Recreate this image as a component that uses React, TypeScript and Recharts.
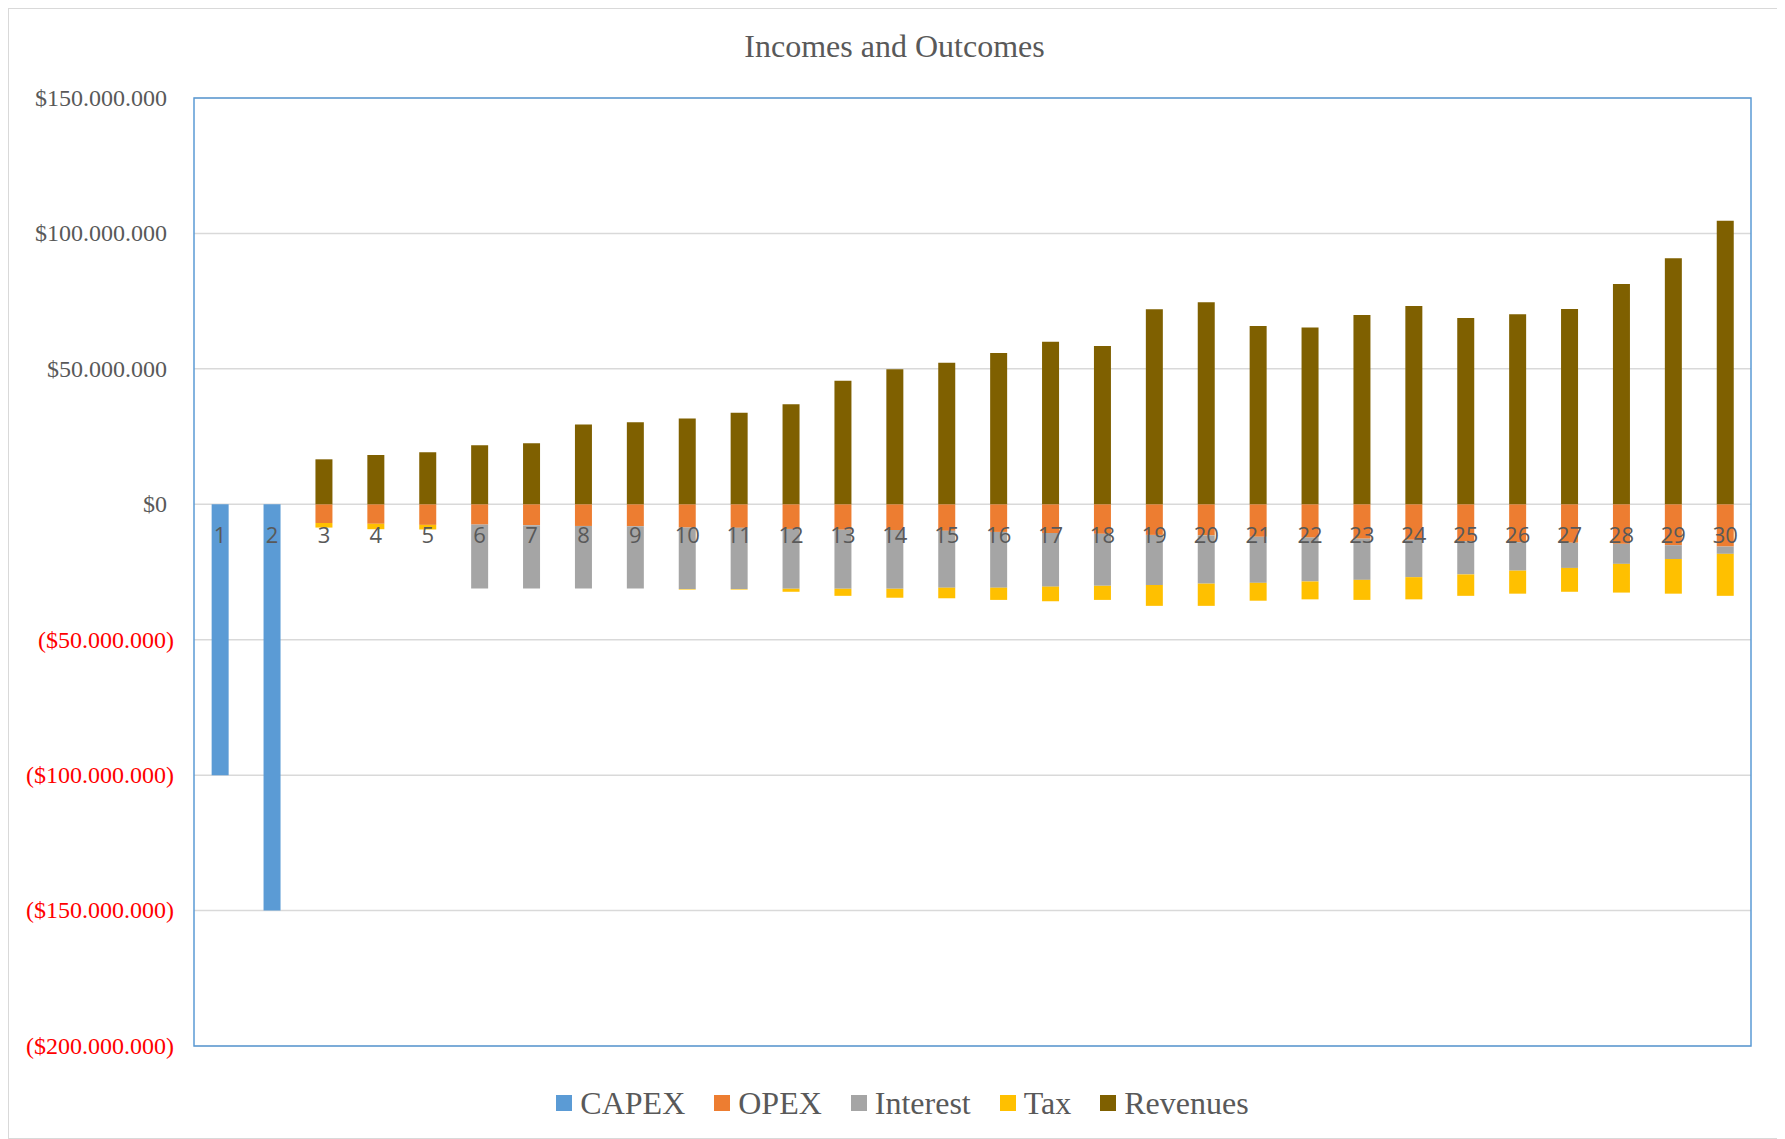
import React from 'react';
import {
  BarChart,
  Bar,
  XAxis,
  YAxis,
  CartesianGrid,
  Legend,
  LabelList,
  ReferenceArea,
} from 'recharts';

// Project years
const years = [
  '1', '2', '3', '4', '5', '6', '7', '8', '9', '10',
  '11', '12', '13', '14', '15', '16', '17', '18', '19', '20',
  '21', '22', '23', '24', '25', '26', '27', '28', '29', '30',
];

// Cash flows per year, in millions of dollars (outflows negative)
const capexM = [
  -100, -150, 0, 0, 0, 0, 0, 0, 0, 0,
  0, 0, 0, 0, 0, 0, 0, 0, 0, 0,
  0, 0, 0, 0, 0, 0, 0, 0, 0, 0,
];
const opexM = [
  0, 0, -6.9, -7.2, -7.6, -7.5, -7.7, -8.0, -8.1, -8.6,
  -8.7, -9.1, -9.4, -9.5, -9.8, -10.2, -10.6, -10.9, -11.3, -11.5,
  -12.0, -12.3, -12.7, -13.1, -13.7, -14.0, -14.2, -14.6, -15.1, -15.6,
];
const interestM = [
  0, 0, 0, 0, 0, -23.6, -23.4, -23.1, -23.0, -22.7,
  -22.6, -22.1, -21.8, -21.7, -21.0, -20.6, -19.8, -19.2, -18.5, -17.8,
  -17.0, -16.2, -15.2, -13.8, -12.2, -10.5, -9.3, -7.4, -5.1, -2.7,
];
const taxM = [
  0, 0, -1.7, -2.0, -1.7, 0, 0, 0, 0, -0.2,
  -0.2, -1.1, -2.6, -3.3, -3.9, -4.5, -5.4, -5.2, -7.7, -8.2,
  -6.6, -6.6, -7.4, -8.2, -7.9, -8.5, -8.8, -10.6, -12.8, -15.5,
];
const revenuesM = [
  0, 0, 16.6, 18.2, 19.2, 21.8, 22.5, 29.5, 30.3, 31.7,
  33.8, 36.9, 45.6, 49.9, 52.3, 55.9, 60.0, 58.4, 72.0, 74.6,
  65.8, 65.3, 69.9, 73.2, 68.8, 70.2, 72.1, 81.3, 90.8, 104.7,
];

// Value axis ticks, in dollars
const yTicks = [
  150000000, 100000000, 50000000, 0, -50000000, -100000000, -150000000, -200000000,
];

const MILLION = 1000000;

const data = years.map((year, i) => ({
  year,
  CAPEX: capexM[i] * MILLION,
  OPEX: opexM[i] * MILLION,
  Interest: interestM[i] * MILLION,
  Tax: taxM[i] * MILLION,
  Revenues: revenuesM[i] * MILLION,
}));

const SERIES = [
  { key: 'CAPEX', color: '#5B9BD5' },
  { key: 'OPEX', color: '#ED7D31' },
  { key: 'Interest', color: '#A5A5A5' },
  { key: 'Tax', color: '#FFC000' },
  { key: 'Revenues', color: '#7F6000' },
];

const SERIF = "'Times New Roman', 'Liberation Serif', serif";
const TEXT_GREY = '#595959';

const formatDollars = (v: number) => {
  const abs = Math.round(Math.abs(v))
    .toString()
    .replace(/\B(?=(\d{3})+(?!\d))/g, '.');
  return v < 0 ? `($${abs})` : `$${abs}`;
};

const ValueTick = (props: any) => {
  const { x, y, payload } = props;
  const v = Number(payload.value);
  const neg = v < 0;
  return (
    <text
      x={x - (neg ? 20 : 27)}
      y={y}
      dy="0.33em"
      textAnchor="end"
      fontFamily={SERIF}
      fontSize={24}
      fill={neg ? '#FF0000' : TEXT_GREY}
    >
      {formatDollars(v)}
    </text>
  );
};

// Category labels sit just under the zero line, drawn over the bars.
// Upward bars meet the zero line at their lower edge, downward bars at their upper edge.
// Only bars with a non-zero height get a label, so CAPEX covers years 1-2 and
// Revenues covers the operating years.
const makeYearLabel = (upward: boolean) => (props: any) => {
  const { x, y, width, height, value } = props;
  const top = Number(y);
  const bottom = Number(y) + Number(height);
  const zeroY = upward ? Math.max(top, bottom) : Math.min(top, bottom);
  return (
    <text
      x={Number(x) + Number(width) / 2}
      y={zeroY + 39}
      textAnchor="middle"
      fontFamily="'Open Sans', 'Noto Sans', sans-serif"
      fontSize={22}
      fill={TEXT_GREY}
    >
      {value}
    </text>
  );
};

const CapexYearLabel = makeYearLabel(false);
const RevenueYearLabel = makeYearLabel(true);

const LegendContent = () => (
  <div
    style={{
      display: 'flex',
      justifyContent: 'center',
      alignItems: 'center',
      height: 40,
      fontFamily: SERIF,
      fontSize: 32,
      color: TEXT_GREY,
    }}
  >
    {SERIES.map((s, i) => (
      <div
        key={s.key}
        style={{
          display: 'flex',
          alignItems: 'center',
          marginLeft: i === 0 ? 0 : 29,
        }}
      >
        <span
          style={{
            display: 'inline-block',
            width: 16,
            height: 16,
            background: s.color,
            marginRight: 8,
          }}
        />
        <span style={{ lineHeight: '40px' }}>{s.key}</span>
      </div>
    ))}
  </div>
);

export default function App() {
  return (
    <div
      style={{
        position: 'relative',
        width: 1771,
        height: 1129,
        border: '1px solid #D9D9D9',
        background: '#FFFFFF',
      }}
    >
      <div
        style={{
          position: 'absolute',
          left: 0,
          right: 0,
          top: 21,
          textAlign: 'center',
          fontFamily: SERIF,
          fontSize: 32,
          lineHeight: '32px',
          color: TEXT_GREY,
        }}
      >
        Incomes and Outcomes
      </div>
      <BarChart
        width={1771}
        height={1129}
        data={data}
        stackOffset="sign"
        barCategoryGap="34%"
        margin={{ top: 89, right: 29, bottom: 52, left: 0 }}
      >
        <CartesianGrid vertical={false} stroke="#D9D9D9" strokeWidth={1.5} />
        <XAxis dataKey="year" hide />
        <YAxis
          domain={[-200000000, 150000000]}
          ticks={yTicks}
          interval={0}
          width={185}
          axisLine={false}
          tickLine={false}
          tickSize={0}
          tickMargin={0}
          tick={<ValueTick />}
        />
        <ReferenceArea
          y1={-200000000}
          y2={150000000}
          fill="none"
          stroke="#5B9BD5"
          strokeWidth={1.5}
          fillOpacity={0}
        />
        {SERIES.map((s) => (
          <Bar
            key={s.key}
            dataKey={s.key}
            stackId="flow"
            fill={s.color}
            isAnimationActive={false}
          >
            {s.key === 'CAPEX' ? (
              <LabelList dataKey="year" content={CapexYearLabel} />
            ) : null}
            {s.key === 'Revenues' ? (
              <LabelList dataKey="year" content={RevenueYearLabel} />
            ) : null}
          </Bar>
        ))}
        <Legend
          verticalAlign="bottom"
          content={<LegendContent />}
          wrapperStyle={{ left: 8, width: 1771, bottom: 15, height: 40 }}
        />
      </BarChart>
    </div>
  );
}
